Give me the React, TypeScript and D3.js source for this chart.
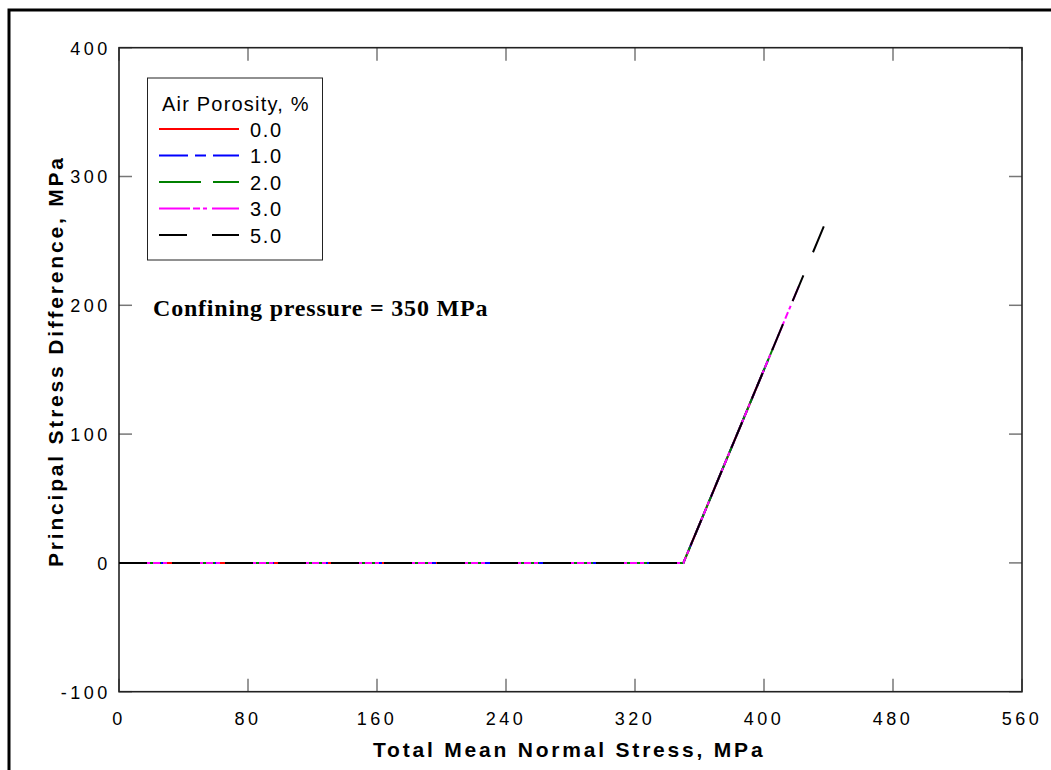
import React from "react";
import * as d3 from "d3";

// ---- data ----
const xTicks = [0, 80, 160, 240, 320, 400, 480, 560];
const yTicks = [-100, 0, 100, 200, 300, 400];
const porosityLabels = ["0.0", "1.0", "2.0", "3.0", "5.0"];
const seriesColors = ["#ff0000", "#0000ff", "#008000", "#ff00ff", "#000000"];
const seriesDash = ["none", "29,7,11,7", "42,12", "31,3,7,3,4,5", "28,25"];

const p00x = [0, 350, 400];
const p00y = [0, 0, 150];
const p10x = [0, 350, 403];
const p10y = [0, 0, 159];
const p20x = [0, 350, 409];
const p20y = [0, 0, 177];
const p30x = [0, 350, 421.5];
const p30y = [0, 0, 214.5];
const p50x = [0, 350, 440];
const p50y = [0, 0, 270];

const seriesX = [p00x, p10x, p20x, p30x, p50x];
const seriesY = [p00y, p10y, p20y, p30y, p50y];

const W = 1051;
const H = 770;
const L = 119, R = 1022, T = 47.7, B = 691.7;
const SANS = "Arial, 'Liberation Sans', Helvetica, sans-serif";
const SERIF = "'Times New Roman', 'Liberation Serif', Times, serif";

export default function App() {
  const x = d3.scaleLinear().domain([0, 560]).range([L, R]);
  const y = d3.scaleLinear().domain([-100, 400]).range([B, T]);
  const line = d3
    .line<[number, number]>()
    .x((d) => x(d[0]))
    .y((d) => y(d[1]));

  const tickLen = 13;
  const tickColor = "#777";
  const legendX0 = 159, legendX1 = 239;
  const legendRows = [129, 155.5, 182, 208.5, 235];

  return (
    <svg
      width={W}
      height={H}
      style={{ position: "fixed", left: 0, top: 0, background: "#fff" }}
    >
      <rect x={0} y={0} width={W} height={H} fill="#fff" />
      {/* outer frame */}
      <rect x={9} y={10} width={1300} height={1000} fill="none" stroke="#000" strokeWidth={3} />

      {/* ticks */}
      {xTicks.map((t) => (
        <g key={"xt" + t}>
          <line x1={x(t)} x2={x(t)} y1={B} y2={B - tickLen} stroke={tickColor} strokeWidth={1.5} />
          <line x1={x(t)} x2={x(t)} y1={T} y2={T + tickLen} stroke={tickColor} strokeWidth={1.5} />
          <text
            x={x(t)}
            y={725}
            textAnchor="middle"
            fontFamily={SANS}
            fontSize={18}
            letterSpacing={3.5}
            fill="#000"
          >
            {t}
          </text>
        </g>
      ))}
      {yTicks.map((t) => (
        <g key={"yt" + t}>
          <line x1={L} x2={L + tickLen} y1={y(t)} y2={y(t)} stroke={tickColor} strokeWidth={1.5} />
          <line x1={R} x2={R - tickLen} y1={y(t)} y2={y(t)} stroke={tickColor} strokeWidth={1.5} />
          <text
            x={110.8}
            y={y(t) + 6.8}
            textAnchor="end"
            fontFamily={SANS}
            fontSize={18}
            letterSpacing={3.5}
            fill="#000"
          >
            {t}
          </text>
        </g>
      ))}

      {/* axes frame */}
      <rect x={L} y={T} width={R - L} height={B - T} fill="none" stroke="#222" strokeWidth={1.6} />

      {/* data */}
      {seriesX.map((xs, i) => {
        const pts: [number, number][] = xs.map((v, j) => [v, seriesY[i][j]]);
        return (
          <path
            key={"s" + i}
            d={line(pts) || ""}
            fill="none"
            stroke={seriesColors[i]}
            strokeWidth={2}
            strokeDasharray={seriesDash[i]}
          />
        );
      })}

      {/* legend */}
      <rect x={147.5} y={78} width={175} height={182} fill="#fff" stroke="#222" strokeWidth={1} />
      <text x={162} y={110.5} fontFamily={SANS} fontSize={20} letterSpacing={1.2} fill="#000">
        Air Porosity, %
      </text>
      {porosityLabels.map((lab, i) => (
        <g key={"lg" + i}>
          <line
            x1={legendX0}
            x2={legendX1}
            y1={legendRows[i]}
            y2={legendRows[i]}
            stroke={seriesColors[i]}
            strokeWidth={2}
            strokeDasharray={seriesDash[i]}
          />
          <text
            x={250}
            y={legendRows[i] + 7.5}
            fontFamily={SANS}
            fontSize={20}
            letterSpacing={1.7}
            fill="#000"
          >
            {lab}
          </text>
        </g>
      ))}

      {/* annotation */}
      <text
        x={153}
        y={315.5}
        fontFamily={SERIF}
        fontWeight="bold"
        fontSize={24}
        letterSpacing={0.8}
        fill="#000"
      >
        Confining pressure = 350 MPa
      </text>

      {/* axis titles */}
      <text
        x={373}
        y={756.5}
        fontFamily={SANS}
        fontWeight="bold"
        fontSize={21}
        letterSpacing={2.8}
        fill="#000"
      >
        Total Mean Normal Stress, MPa
      </text>
      <text
        transform={`translate(63.3,567) rotate(-90)`}
        x={0}
        y={0}
        fontFamily={SANS}
        fontWeight="bold"
        fontSize={21}
        letterSpacing={2.8}
        fill="#000"
      >
        Principal Stress Difference, MPa
      </text>
    </svg>
  );
}
